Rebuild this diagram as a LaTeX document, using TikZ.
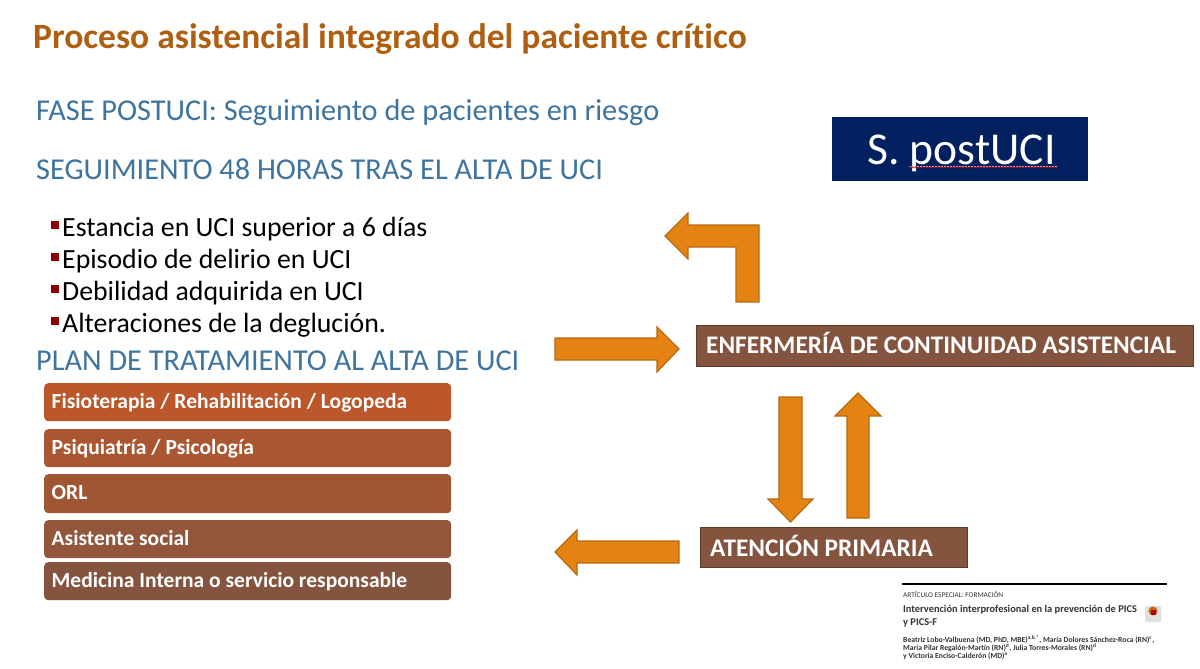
\documentclass[tikz,border=0pt]{standalone}
\usepackage{fontspec}
\setmainfont[Ligatures=NoCommon]{Carlito}
\usetikzlibrary{decorations.pathmorphing}
\definecolor{titlec}{HTML}{AE5F10}
\definecolor{bluec}{HTML}{3E74A0}
\definecolor{navy}{HTML}{002060}
\definecolor{orangec}{HTML}{E48312}
\definecolor{orangeb}{HTML}{B8690F}
\definecolor{brownc}{HTML}{85543E}
\definecolor{bulletc}{HTML}{8B0000}
\definecolor{rowa}{HTML}{BC572B}
\definecolor{rowb}{HTML}{AA5731}
\definecolor{rowc}{HTML}{9E5635}
\definecolor{rowd}{HTML}{92563A}
\definecolor{rowe}{HTML}{85543E}
\tikzset{
  x=1pt,y=-1pt,
  blockarrow/.style={fill=orangec,draw=orangeb,line width=1.2pt,line join=miter},
  heading/.style={anchor=base west,text=bluec,font=\fontsize{30.3}{30.3}\selectfont,inner sep=0pt},
  bullettext/.style={anchor=base west,text=black,font=\fontsize{27.8}{27.8}\selectfont,inner sep=0pt},
  bulletmark/.style={fill=bulletc,draw=none,minimum size=8pt,inner sep=0pt},
  rowbox/.style={rounded corners=4pt,draw=none,minimum width=407pt,anchor=north west,inner sep=0pt},
  rowtext/.style={anchor=base west,text=white,font=\bfseries\fontsize{21.5}{21.5}\selectfont,inner sep=0pt},
  brownbox/.style={fill=brownc,draw=brownc!70!black,line width=.8pt,anchor=north west,inner sep=0pt},
  boxtext/.style={anchor=base west,text=white,font=\bfseries\fontsize{25.3}{25.3}\selectfont,inner sep=0pt},
  smalltext/.style={anchor=base west,inner sep=0pt,text=black!80},
}
\begin{document}
\begin{tikzpicture}
\useasboundingbox[fill=white] (0,0) rectangle (1200,669);
\node[anchor=base west,inner sep=0pt,text=titlec,font=\bfseries\fontsize{35.5}{35.5}\selectfont] (title) at (33,49) {Proceso asistencial integrado del paciente crítico};
\node[heading] (h1) at (36,121) {FASE POSTUCI: Seguimiento de pacientes en riesgo};
\node[heading] (h2) at (36,179) {SEGUIMIENTO 48 HORAS TRAS EL ALTA DE UCI};
\node[heading] (h3) at (36,370) {PLAN DE TRATAMIENTO AL ALTA DE UCI};
% S. postUCI
\node[fill=navy,draw=none,minimum width=256pt,minimum height=64pt,anchor=north west,inner sep=0pt] (spost) at (832,117) {};
\node[anchor=base west,inner sep=0pt,text=white,font=\fontsize{45.6}{45.6}\selectfont] (spostt) at (867,164) {S. postUCI};
\draw[black!30,line width=.5pt,densely dotted] (909,166.2) -- (1057,166.2);
\draw[red!85!black,line width=.6pt,decorate,decoration={snake,amplitude=.6pt,segment length=3pt}] (909,167.5) -- (1057,167.5);
% bullets
\foreach \n/\yy/\t in {a/236/Estancia en UCI superior a 6 días,b/268/Episodio de delirio en UCI,c/300/Debilidad adquirida en UCI,d/332/Alteraciones de la deglución.}{
  \node[bulletmark] (m\n) at (55,\yy-11.5) {};
  \node[bullettext] (t\n) at (62,\yy) {\t};
}
% rows
\node[rowbox,fill=rowa,minimum height=38pt] (r1) at (44,383) {};
\node[rowbox,fill=rowb,minimum height=38pt] (r2) at (44,429) {};
\node[rowbox,fill=rowc,minimum height=39pt] (r3) at (44,474) {};
\node[rowbox,fill=rowd,minimum height=38pt] (r4) at (44,520) {};
\node[rowbox,fill=rowe,minimum height=38pt] (r5) at (44,562) {};
\node[rowtext] (rt1) at (51.5,408) {Fisioterapia / Rehabilitación / Logopeda};
\node[rowtext] (rt2) at (51.5,454) {Psiquiatría / Psicología};
\node[rowtext] (rt3) at (51.5,499) {ORL};
\node[rowtext] (rt4) at (51.5,545) {Asistente social};
\node[rowtext] (rt5) at (51.5,587) {Medicina Interna o servicio responsable};
% brown boxes
\node[brownbox,minimum width=497pt,minimum height=41pt] (enf) at (696,325) {};
\node[boxtext] (enft) at (706,353) {ENFERMERÍA DE CONTINUIDAD ASISTENCIAL};
\node[brownbox,minimum width=267pt,minimum height=40pt] (aten) at (700,527) {};
\node[boxtext] (atent) at (710,556) {ATENCIÓN PRIMARIA};
% block arrows
\draw[blockarrow] (665,236) -- (688,213) -- (688,225) -- (759,225) -- (759,302) -- (736,302) -- (736,247) -- (688,247) -- (688,259) -- cycle;
\draw[blockarrow] (679,349) -- (657,327) -- (657,338) -- (555,338) -- (555,360) -- (657,360) -- (657,372) -- cycle;
\draw[blockarrow] (790.5,522) -- (768,499) -- (779,499) -- (779,397) -- (802,397) -- (802,499) -- (813,499) -- cycle;
\draw[blockarrow] (858,393) -- (835,416) -- (847,416) -- (847,518) -- (869,518) -- (869,416) -- (881,416) -- cycle;
\draw[blockarrow] (555,552) -- (577,530) -- (577,541) -- (679,541) -- (679,563) -- (577,563) -- (577,575) -- cycle;
% article thumbnail
\coordinate (rulea) at (902,584);
\coordinate (ruleb) at (1167,584);
\draw[black,line width=1.8pt] (rulea) -- (ruleb);
\node[smalltext,font=\fontsize{7.3}{7.3}\selectfont] (art) at (903,597) {ARTÍCULO ESPECIAL: FORMACIÓN};
\node[smalltext,font=\bfseries\fontsize{10.4}{10.4}\selectfont] (at1) at (903,612) {Intervención interprofesional en la prevención de PICS};
\node[smalltext,font=\bfseries\fontsize{10.4}{10.4}\selectfont] (at2) at (903,625) {y PICS-F};
\node[smalltext,font=\bfseries\fontsize{7.7}{7.7}\selectfont] (au1) at (903,642) {Beatriz Lobo-Valbuena (MD, PhD, MBE)\textsuperscript{a,b,*}, María Dolores Sánchez-Roca (RN)\textsuperscript{c},};
\node[smalltext,font=\bfseries\fontsize{7.7}{7.7}\selectfont] (au2) at (903,650) {María Pilar Regalón-Martín (RN)\textsuperscript{d}, Julia Torres-Morales (RN)\textsuperscript{d}};
\node[smalltext,font=\bfseries\fontsize{7.7}{7.7}\selectfont] (au3) at (903,658) {y Victoria Enciso-Calderón (MD)\textsuperscript{a}};
\node[fill=black!12,minimum width=16pt,minimum height=16pt,inner sep=0pt,rounded corners=1pt] (logo) at (1153,614) {};
\node[circle,fill=orange!80!black,minimum size=9pt,inner sep=0pt] (logoa) at (1153,611) {};
\node[fill=red!70!black,minimum width=5pt,minimum height=5pt,inner sep=0pt] (logob) at (1153,612) {};
\end{tikzpicture}
\end{document}
